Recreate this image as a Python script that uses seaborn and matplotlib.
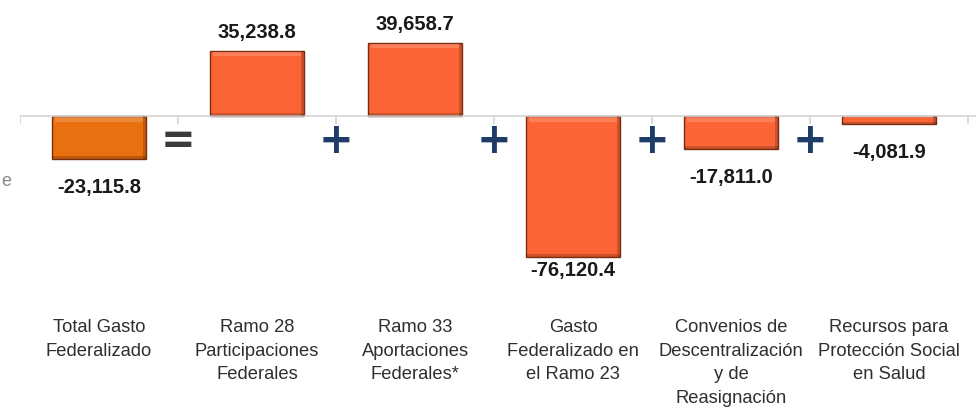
import matplotlib
matplotlib.use("Agg")
import matplotlib.pyplot as plt
from matplotlib.patches import Rectangle
import seaborn as sns
import pandas as pd

categories = [
    "Total Gasto\nFederalizado",
    "Ramo 28\nParticipaciones\nFederales",
    "Ramo 33\nAportaciones\nFederales*",
    "Gasto\nFederalizado en\nel Ramo 23",
    "Convenios de\nDescentralización\ny de\nReasignación",
    "Recursos para\nProtección Social\nen Salud",
]
values = [-23115.8, 35238.8, 39658.7, -76120.4, -17811.0, -4081.9]
value_labels = ["-23,115.8", "35,238.8", "39,658.7", "-76,120.4", "-17,811.0", "-4,081.9"]
operators = ["=", "+", "+", "+", "+"]

bar_colors = ["#E8700E", "#FB6535", "#FB6535", "#FB6535", "#FB6535", "#FB6535"]
label_offsets = [14, 6, 6, 3, 14, 14]  # points

sns.set_theme(style="white")
plt.rcParams["font.family"] = ["Liberation Sans Narrow", "Liberation Sans", "DejaVu Sans"]

df = pd.DataFrame({"cat": categories, "val": values})

fig = plt.figure(figsize=(9.76, 4.16), dpi=100)
ax = fig.add_axes([20 / 976, 1 - 300 / 416, 956 / 976, 300 / 416])

sns.barplot(data=df, x="cat", y="val", hue="cat", palette=bar_colors,
            legend=False, width=0.59, ax=ax, edgecolor="#7a2d10", linewidth=1.0,
            saturation=1)

ax.set_xlim(-0.5, 5.55)
ax.set_ylim(-99500, 62700)

# bevel highlight on each bar
for p in ax.patches:
    x, y, w, h = p.get_x(), p.get_y(), p.get_width(), p.get_height()
    top = y + h if h >= 0 else y
    bot = y if h >= 0 else y + h
    span = top - bot
    strip = min(3000, span * 0.3)
    ax.add_patch(Rectangle((x + w * 0.03, top - strip), w * 0.94, strip * 0.8,
                           facecolor="white", alpha=0.18, edgecolor="none", zorder=3))
    ax.add_patch(Rectangle((x + w * 0.97, bot), w * 0.03, span,
                           facecolor="black", alpha=0.18, edgecolor="none", zorder=3))
    ax.add_patch(Rectangle((x, bot), w, min(1500, span * 0.15),
                           facecolor="black", alpha=0.18, edgecolor="none", zorder=3))

# zero axis and boundary ticks
ax.axhline(0, color="#d4d4d4", lw=1.2, zorder=1)
bounds = [i - 0.5 for i in range(len(categories) + 1)]
ax.vlines(bounds, -4600, 0, color="#d4d4d4", lw=1.2, zorder=1)

# value labels
for i, (v, lab) in enumerate(zip(values, value_labels)):
    off = label_offsets[i]
    ax.annotate(lab, (i, v), xytext=(0, off if v > 0 else -off), textcoords="offset points",
                ha="center", va="bottom" if v > 0 else "top",
                fontsize=14.5, fontweight="bold", color="#1a1a1a")

# operators
for j, op in enumerate(operators):
    col = "#3b3b3b" if op == "=" else "#1F3B68"
    ax.text(j + 0.5, -13500, op, ha="center", va="center", fontsize=30,
            fontweight="bold", color=col, family=["DejaVu Sans"])

for s in ax.spines.values():
    s.set_visible(False)
ax.set_yticks([])
ax.set_xlabel("")
ax.set_ylabel("")
ax.set_xticks(range(len(categories)))
ax.set_xticklabels(categories, linespacing=1.5, va="top", multialignment="center",
                   fontsize=13.2, color="#2f2f2f")
ax.tick_params(axis="x", length=0, pad=14)

fig.text(0.001, 1 - 182 / 416, "e", fontsize=13, color="#888888", va="center", ha="left")

fig.savefig("out.png", dpi=100)
